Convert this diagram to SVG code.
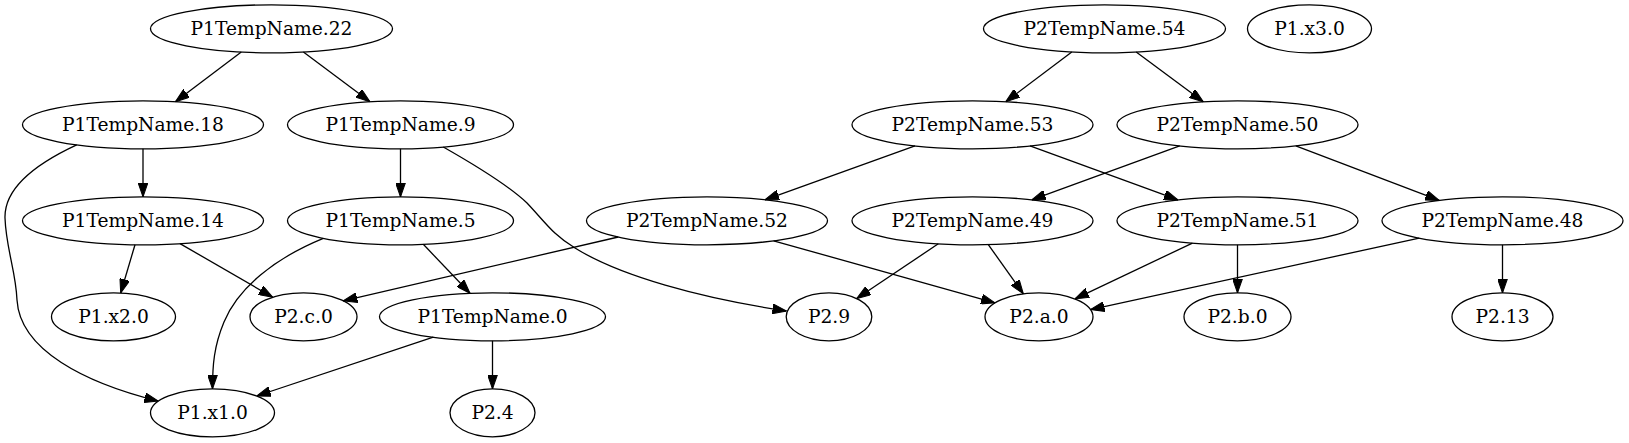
<svg xmlns="http://www.w3.org/2000/svg" width="1629" height="443" viewBox="0 0 1629 443">
<style>
.n ellipse{fill:none;stroke:#000;stroke-width:1.3}
.n text{font-family:'DejaVu Serif','Liberation Serif',serif;font-size:18.67px;text-anchor:middle;fill:#000}
.e path{fill:none;stroke:#000;stroke-width:1.3;marker-end:url(#ah)}
</style>
<defs>
<marker id="ah" markerUnits="userSpaceOnUse" markerWidth="14" markerHeight="10" viewBox="0 0 13.33 9.34" refX="13.33" refY="4.67" orient="auto">
<path d="M0,0 L13.33,4.67 L0,9.34 Z" fill="#000" stroke="#000" stroke-width="1"/>
</marker>
</defs>
<rect width="1629" height="443" fill="#fff"/>
<g id="edges" class="e">
<path d="M241.3,52 L175.4,101.7"/>
<path d="M303.4,52 L370,101.7"/>
<path d="M143,148.8 L143,196.8"/>
<path d="M76.7,144.8 C44,160 4,185 5,218 C6,248 16,272 17,300 C20,350 85,383 158.3,401.1"/>
<path d="M400.5,148.8 L400.5,196.8"/>
<path d="M443.3,147 C475,165 508,185 527,203 C545,222 553,235 575,248 C620,276 700,298 786.5,311"/>
<path d="M135,244.7 L120.7,293"/>
<path d="M180,243.6 L272.7,297.2"/>
<path d="M323.3,238.3 C275,258 238,288 224,322 C214,346 212.5,365 212.5,388.8"/>
<path d="M423.3,244.3 L470,293.3"/>
<path d="M433.3,337.2 L256.7,396"/>
<path d="M492.5,340.8 L492.5,388.8"/>
<path d="M618.3,237 L343.3,300.8"/>
<path d="M773.6,240.8 L995,302.9"/>
<path d="M1071.8,51.9 L1005.7,101.7"/>
<path d="M1136.2,51.9 L1203.3,101.8"/>
<path d="M915,145.9 L765,199.8"/>
<path d="M1030,145.9 L1178,199.9"/>
<path d="M1179.7,145.9 L1031.7,199.9"/>
<path d="M1295.8,145.9 L1439.2,200.4"/>
<path d="M938.3,243.8 L856.7,298.5"/>
<path d="M988.3,244.6 L1023.3,293.8"/>
<path d="M1192.4,243.1 L1075,298.9"/>
<path d="M1237.5,244.8 L1237.5,292.8"/>
<path d="M1419.2,238.1 L1090.5,309.6"/>
<path d="M1502.5,244.8 L1502.5,292.8"/>
</g>
<g id="P1TempName.22" class="n"><ellipse cx="271.5" cy="28.8" rx="121" ry="24"/><text x="271.5" y="34.8">P1TempName.22</text></g>
<g id="P2TempName.54" class="n"><ellipse cx="1104.5" cy="28.8" rx="121" ry="24"/><text x="1104.5" y="34.8">P2TempName.54</text></g>
<g id="P1.x3.0" class="n"><ellipse cx="1309.5" cy="28.8" rx="62" ry="24"/><text x="1309.5" y="34.8">P1.x3.0</text></g>
<g id="P1TempName.18" class="n"><ellipse cx="143" cy="124.8" rx="120.5" ry="24"/><text x="143" y="130.8">P1TempName.18</text></g>
<g id="P1TempName.9" class="n"><ellipse cx="400.5" cy="124.8" rx="113" ry="24"/><text x="400.5" y="130.8">P1TempName.9</text></g>
<g id="P2TempName.53" class="n"><ellipse cx="972.5" cy="124.8" rx="120.5" ry="24"/><text x="972.5" y="130.8">P2TempName.53</text></g>
<g id="P2TempName.50" class="n"><ellipse cx="1237.5" cy="124.8" rx="120.5" ry="24"/><text x="1237.5" y="130.8">P2TempName.50</text></g>
<g id="P1TempName.14" class="n"><ellipse cx="143" cy="220.8" rx="120.5" ry="24"/><text x="143" y="226.8">P1TempName.14</text></g>
<g id="P1TempName.5" class="n"><ellipse cx="400.5" cy="220.8" rx="113" ry="24"/><text x="400.5" y="226.8">P1TempName.5</text></g>
<g id="P2TempName.52" class="n"><ellipse cx="707" cy="220.8" rx="120.5" ry="24"/><text x="707" y="226.8">P2TempName.52</text></g>
<g id="P2TempName.49" class="n"><ellipse cx="972.5" cy="220.8" rx="120.5" ry="24"/><text x="972.5" y="226.8">P2TempName.49</text></g>
<g id="P2TempName.51" class="n"><ellipse cx="1237.5" cy="220.8" rx="120.5" ry="24"/><text x="1237.5" y="226.8">P2TempName.51</text></g>
<g id="P2TempName.48" class="n"><ellipse cx="1502.5" cy="220.8" rx="120.5" ry="24"/><text x="1502.5" y="226.8">P2TempName.48</text></g>
<g id="P1.x2.0" class="n"><ellipse cx="113.5" cy="316.8" rx="62" ry="24"/><text x="113.5" y="322.8">P1.x2.0</text></g>
<g id="P2.c.0" class="n"><ellipse cx="303.5" cy="316.8" rx="53.5" ry="24"/><text x="303.5" y="322.8">P2.c.0</text></g>
<g id="P1TempName.0" class="n"><ellipse cx="492.5" cy="316.8" rx="113" ry="24"/><text x="492.5" y="322.8">P1TempName.0</text></g>
<g id="P2.9" class="n"><ellipse cx="829" cy="316.8" rx="42.8" ry="24"/><text x="829" y="322.8">P2.9</text></g>
<g id="P2.a.0" class="n"><ellipse cx="1039" cy="316.8" rx="54" ry="24"/><text x="1039" y="322.8">P2.a.0</text></g>
<g id="P2.b.0" class="n"><ellipse cx="1237.5" cy="316.8" rx="53.5" ry="24"/><text x="1237.5" y="322.8">P2.b.0</text></g>
<g id="P2.13" class="n"><ellipse cx="1502.5" cy="316.8" rx="50.5" ry="24"/><text x="1502.5" y="322.8">P2.13</text></g>
<g id="P1.x1.0" class="n"><ellipse cx="212.5" cy="412.8" rx="62" ry="24"/><text x="212.5" y="418.8">P1.x1.0</text></g>
<g id="P2.4" class="n"><ellipse cx="492.5" cy="412.8" rx="42.5" ry="24"/><text x="492.5" y="418.8">P2.4</text></g>
</svg>
